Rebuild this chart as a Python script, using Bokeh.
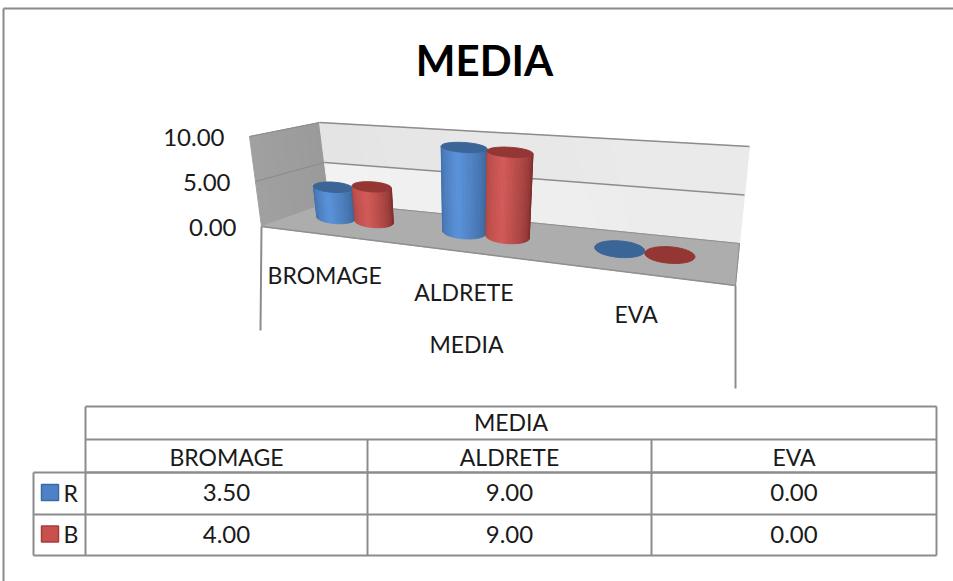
from bokeh.plotting import figure
from bokeh.embed import file_html
from bokeh.resources import INLINE
from bokeh.core.properties import value
import numpy as np

# Chart contents
title = "MEDIA"
categories = ["BROMAGE", "ALDRETE", "EVA"]
series_names = ["R", "B"]
r_values = [3.5, 9.0, 0.0]
b_values = [4.0, 9.0, 0.0]
ticks = [0.0, 5.0, 10.0]
axis_max = 10.0

FONT = "Lato"
GRID = "#8c8c8c"
# Left edge, highlight, right edge, cap
SIDE = {"R": ("#3f6ca6", "#5a92da", "#375f92", "#3b6497"),
        "B": ("#ad4442", "#d25a57", "#7e2d2b", "#943634")}

# Corners of the 3D box on the page: floor and top rim, (front, back) x (left, right)
FLOOR = {"fl": (261, 226), "fr": (735, 285), "bl": (329, 202), "br": (739, 243)}
TOP = {"fl": (249, 136), "fr": (747, 182), "bl": (319, 122), "br": (749, 146)}
VANISH_X = 466.0
TAPER = 0.0066


def homography(q):
    src = [(0, 0), (1, 0), (0, 1), (1, 1)]
    dst = [q["fl"], q["fr"], q["bl"], q["br"]]
    A, b = [], []
    for (u, v), (x, y) in zip(src, dst):
        A.append([u, v, 1, 0, 0, 0, -u * x, -v * x])
        A.append([0, 0, 0, u, v, 1, -u * y, -v * y])
        b += [x, y]
    return np.append(np.linalg.solve(np.array(A, float), np.array(b, float)), 1).reshape(3, 3)


H_FLOOR, H_TOP = homography(FLOOR), homography(TOP)


def persp(H, u, v):
    d = H @ np.array([u, v, 1.0])
    return d[:2] / d[2]


def project(u, v, w):
    """Box coordinates (across, depth, value) to page coordinates."""
    t = w / axis_max
    return (1 - t) * persp(H_FLOOR, u, v) + t * persp(H_TOP, u, v)


p = figure(width=953, height=581, x_range=(0, 953), y_range=(581, 0),
           output_backend="svg", toolbar_location=None, min_border=0,
           background_fill_color="white", border_fill_color="white")
p.axis.visible = False
p.grid.visible = False
p.outline_line_color = None


def poly(pts, fill, line=None, width=1.0):
    pts = np.array(pts)
    p.patch(pts[:, 0], pts[:, 1], fill_color=fill, line_color=line or fill,
            line_width=width)


def seg(a, b, color=GRID, width=2.0):
    p.line([a[0], b[0]], [a[1], b[1]], line_color=color, line_width=width)


def label(x, y, s, size, align="center", bold=False, color="#1a1a1a"):
    p.text([x], [y], text=[s], text_font=value(FONT), text_font_size=f"{size}px",
           text_align=align, text_baseline="middle", text_color=color,
           text_font_style="bold" if bold else "normal")


def mix(c1, c2, t):
    a = [int(c1[i:i + 2], 16) for i in (1, 3, 5)]
    b = [int(c2[i:i + 2], 16) for i in (1, 3, 5)]
    return "#%02x%02x%02x" % tuple(round(x + (y - x) * t) for x, y in zip(a, b))


# Outer frame of the chart area
seg((3, 8), (953, 8), "#8a8a8a", 2)
seg((3, 8), (3, 581), "#8a8a8a", 2)

# Side wall, back wall and floor
N = 14
for i in range(N):
    a, b = i / N, (i + 1) / N
    poly([project(0, a, ticks[0]), project(0, b, ticks[0]), project(0, b, ticks[-1]), project(0, a, ticks[-1])],
         mix("#a0a0a0", "#9a9a9a", a))
for i in range(N):
    a, b = i / N, (i + 1) / N
    poly([project(a, 1, ticks[1]), project(b, 1, ticks[1]), project(b, 1, ticks[2]), project(a, 1, ticks[2])],
         mix("#e4e4e4", "#ebebeb", a))
    poly([project(a, 1, ticks[0]), project(b, 1, ticks[0]), project(b, 1, ticks[1]), project(a, 1, ticks[1])],
         mix("#f2f2f2", "#ebebeb", a))
poly([project(0, 0, 0), project(1, 0, 0), project(1, 1, 0), project(0, 1, 0)], "#adadad")
seg(project(0, 0, 0), project(1, 0, 0), "#8f8f8f", 1.5)
seg(project(1, 0, 0), project(1, 1, 0), "#8f8f8f", 1)
seg(project(0, 1, 0), project(1, 1, 0), "#8f8f8f", 1)

# Gridlines across both walls
for w in ticks[1:]:
    seg(project(0, 0, w), project(0, 1, w), "#8a8a8a", 1)
    seg(project(0, 1, w), project(1, 1, w), GRID, 1.5)

# Drop lines bracketing the category labels
seg(project(0, 0, 0), (project(0, 0, 0)[0] - 1, 330), GRID, 2)
seg(project(1, 0, 0), (project(1, 0, 0)[0], 388), GRID, 2)

# Value axis labels
for w in ticks:
    q = project(0, 0, w)
    label(q[0] - 25, q[1] + 1, f"{w:.2f}", 24, "right")

DU, DV, DEPTH = 0.05, 0.22, 0.5
TILT = 0.6
RY_SHRINK = 0.03
FLAT_WIDTH = 440.0


def cylinder(u, offset, w, name):
    edge, light, far, top = SIDE[name]
    base = project(u, DEPTH, 0)
    ax = (persp(H_FLOOR, u + DU, DEPTH) - persp(H_FLOOR, u - DU, DEPTH)) / 2
    ax[0] = 0.7 * ax[0] + 0.3 * DU * FLAT_WIDTH
    by = abs((project(u, DEPTH + DV, 0) - project(u, DEPTH - DV, 0))[1]) / 2
    rise = (project(u, DEPTH, axis_max) - base)[1] / axis_max
    cx = base[0] + offset * ax[0]
    cy = base[1] + offset * ax[1]

    def point(level, t):
        x = cx + ax[0] * np.cos(t)
        y = cy + ax[1] * TILT * np.cos(t) + by * (1 - RY_SHRINK * level) * np.sin(t) + rise * level
        return np.array([x + (x - VANISH_X) * TAPER * level, y])

    if w > 0:
        # Body as narrow strips running along the front half of the rims
        S = 28
        ts = np.linspace(np.pi, 0, S + 1)
        for i in range(S):
            f = (i + 0.5) / S
            col = mix(edge, light, f / 0.42) if f < 0.42 else mix(light, far, (f - 0.42) / 0.58)
            poly([point(0, ts[i]), point(0, ts[i + 1]), point(w, ts[i + 1]), point(w, ts[i])], col, col, 0.8)
    poly([point(w, t) for t in np.linspace(0, 2 * np.pi, 72)], top)


# Cylinders: blue before red so that red overlaps its neighbour
for i in range(len(categories)):
    uc = (i + 0.5) / len(categories)
    cylinder(uc, -1, r_values[i], "R")
    cylinder(uc, 1, b_values[i], "B")

# Category labels stepped along the front edge of the floor
for i, cat in enumerate(categories):
    uc = (i + 0.5) / len(categories)
    q = project(uc, 0, 0)
    label(q[0] + 3, q[1] + 41, cat, 23)
label(466, 343, title, 23)

# Title
label(484, 59, title, 42, bold=True, color="#000000")

# Data table
cols = [85, 367, 651, 936]
rows = [406, 439, 472, 514, 555]
LEG_L = 33
seg((cols[0], rows[0]), (cols[-1], rows[0]))
for y in rows[1:3]:
    seg((cols[0], y), (cols[-1], y))
for y in rows[2:]:
    seg((LEG_L, y), (cols[-1], y))
seg((LEG_L, rows[2]), (LEG_L, rows[-1]))
seg((cols[0], rows[0]), (cols[0], rows[-1]))
seg((cols[-1], rows[0]), (cols[-1], rows[-1]))
for x in cols[1:3]:
    seg((x, rows[1]), (x, rows[-1]))

label((cols[0] + cols[-1]) / 2, (rows[0] + rows[1]) / 2 - 1, title, 23)
for j, cat in enumerate(categories):
    cx = (cols[j] + cols[j + 1]) / 2
    label(cx, (rows[1] + rows[2]) / 2 + 1, cat, 23)
    for k, vals in enumerate([r_values, b_values]):
        label(cx, (rows[2 + k] + rows[3 + k]) / 2 - 1, f"{vals[j]:.2f}", 24)

for k, name in enumerate(series_names):
    yc = (rows[2 + k] + rows[3 + k]) / 2 - 1
    fill = {"R": "#4f81c7", "B": "#c8504d"}[name]
    edge = {"R": "#3a6ba5", "B": "#a63c3a"}[name]
    p.quad(left=[41], right=[58], top=[yc - 8], bottom=[yc + 8], fill_color=fill,
           line_color=edge, line_width=1.5)
    label(63, yc, name, 23, "left")

open("out.html", "w").write(file_html(p, INLINE))
